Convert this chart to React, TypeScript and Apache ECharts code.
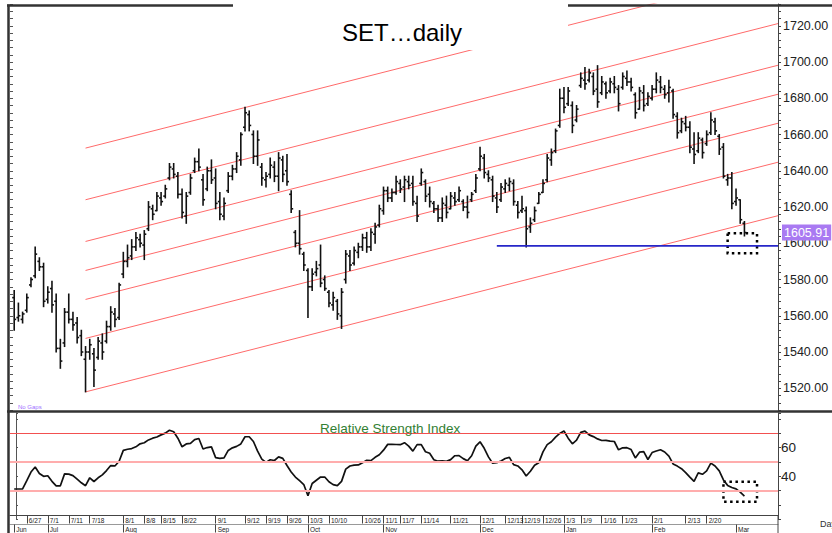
import React, { useEffect, useRef } from 'react';
import * as echarts from 'echarts';

// ---- OHLC bars (one per trading day) ----
const opens = [1570,1559,1558,1563,1577,1582,1590,1587,1569,1575,
 1568,1542,1545,1562,1558,1556,1549,1536,1540,1539,
 1537,1545,1546,1554,1561,1559,1583,1590,1593,1598,
 1602,1599,1608,1619,1618,1625,1626,1636,1641,1637,
 1627,1615,1628,1640,1645,1635,1630,1640,1636,1623,
 1615,1629,1637,1641,1646,1664,1671,1660,1648,1642,
 1635,1638,1642,1637,1646,1640,1627,1606,1600,1594,
 1585,1576,1584,1588,1580,1573,1566,1568,1560,1580,
 1593,1589,1595,1598,1603,1598,1605,1610,1618,1629,
 1625,1628,1633,1631,1634,1633,1622,1633,1634,1627,
 1622,1619,1614,1621,1619,1625,1624,1623,1620,1624,
 1629,1641,1647,1638,1635,1625,1624,1630,1632,1633,
 1621,1618,1618,1609,1613,1622,1628,1635,1646,1651,
 1665,1680,1677,1676,1668,1687,1690,1690,1692,1685,
 1683,1688,1684,1688,1685,1686,1691,1689,1682,1674,
 1683,1677,1680,1685,1689,1685,1683,1684,1670,1662,
 1666,1664,1652,1651,1657,1655,1661,1667,1659,1653,
 1635,1636,1623,1624,1611];
const closes = [1558,1560,1561,1570,1580,1594,1587,1568,1573,1566,
 1542,1535,1562,1558,1555,1548,1540,1540,1544,1530,
 1546,1540,1554,1562,1558,1577,1590,1592,1598,1603,
 1600,1605,1620,1616,1626,1623,1630,1642,1638,1627,
 1617,1626,1636,1645,1642,1624,1640,1635,1622,1616,
 1622,1637,1641,1648,1660,1672,1665,1648,1657,1636,
 1637,1643,1637,1647,1638,1634,1619,1600,1597,1588,
 1576,1583,1586,1578,1575,1567,1570,1561,1573,1594,
 1588,1596,1598,1603,1598,1606,1609,1619,1629,1625,
 1628,1634,1630,1635,1632,1623,1615,1639,1626,1623,
 1619,1614,1622,1617,1626,1623,1629,1620,1617,1627,
 1636,1648,1639,1636,1626,1620,1631,1633,1634,1623,
 1617,1619,1608,1611,1618,1627,1633,1647,1650,1662,
 1680,1675,1684,1665,1674,1691,1688,1694,1684,1678,
 1689,1683,1689,1686,1677,1692,1689,1686,1672,1684,
 1676,1681,1685,1690,1686,1682,1686,1671,1661,1667,
 1664,1653,1649,1658,1650,1660,1668,1662,1652,1637,
 1636,1622,1625,1613,1605.91];
const lows = [1552,1557,1556,1562,1576,1581,1585,1565,1567,1562,
 1540,1531,1543,1556,1552,1545,1538,1518,1536,1521,
 1536,1536,1545,1552,1554,1558,1581,1587,1591,1596,
 1598,1591,1607,1613,1618,1621,1625,1635,1636,1625,
 1614,1611,1627,1639,1640,1621,1629,1633,1619,1613,
 1613,1628,1635,1639,1643,1662,1662,1644,1643,1632,
 1631,1636,1634,1629,1634,1632,1617,1598,1594,1585,
 1559,1574,1582,1576,1574,1565,1563,1558,1553,1578,
 1585,1588,1592,1596,1595,1596,1600,1609,1616,1623,
 1623,1627,1628,1623,1630,1621,1612,1632,1623,1620,
 1617,1612,1612,1614,1619,1621,1623,1618,1614,1623,
 1628,1640,1636,1634,1623,1617,1623,1628,1629,1621,
 1614,1617,1598,1606,1612,1622,1628,1634,1643,1650,
 1664,1672,1676,1661,1667,1686,1685,1689,1682,1675,
 1682,1680,1683,1683,1673,1685,1687,1684,1669,1674,
 1673,1676,1679,1683,1683,1680,1678,1669,1658,1661,
 1662,1650,1644,1650,1647,1654,1660,1660,1649,1636,
 1632,1619,1621,1611,1604];
const highs = [1574,1567,1562,1572,1581,1598,1592,1589,1576,1579,
 1572,1547,1564,1572,1562,1559,1552,1543,1547,1542,
 1548,1550,1557,1565,1564,1578,1595,1599,1602,1606,
 1605,1607,1623,1621,1628,1628,1632,1644,1644,1639,
 1630,1628,1638,1647,1652,1638,1642,1646,1641,1628,
 1625,1639,1643,1650,1661,1675,1673,1662,1662,1644,
 1639,1647,1645,1650,1648,1649,1629,1607,1618,1595,
 1586,1586,1590,1599,1582,1574,1573,1569,1575,1596,
 1596,1598,1600,1605,1606,1608,1611,1621,1631,1631,
 1630,1637,1635,1637,1637,1637,1626,1641,1635,1631,
 1623,1621,1625,1626,1628,1628,1631,1624,1626,1628,
 1638,1653,1649,1640,1637,1628,1633,1635,1636,1635,
 1623,1626,1620,1614,1620,1628,1635,1649,1652,1663,
 1685,1686,1686,1678,1676,1694,1697,1696,1694,1698,
 1692,1689,1691,1692,1687,1694,1695,1691,1683,1686,
 1687,1683,1687,1694,1692,1687,1690,1685,1672,1669,
 1670,1667,1661,1661,1658,1662,1672,1669,1660,1655,
 1638,1639,1630,1624,1612];

// ---- RSI, one value per bar ----
const rsi = [31.2,31.2,31.2,37,43,46.5,42,40,40.4,36.5,
 33.4,33.4,41.7,41.5,40.5,38,35.5,33.5,39,36.4,
 39,41,44,47.5,47.2,50.5,58,58.8,59.3,60.5,
 62.6,63.3,65.3,66.5,67.3,68.8,70,72,71,66.5,
 60.5,62.5,62.9,65.5,66.3,59,60,60.5,53,52.5,
 52.8,58,59.8,60.8,62.5,67.5,67.5,64.2,57.5,52,
 49.7,51.5,51,53.5,52.5,47.5,43,39.5,37,34.3,
 26.5,35,37.3,39.5,39.5,36.2,34.2,33.5,36.5,45,
 47.2,47.8,47.9,49.5,51.1,50.9,53.2,55,58.2,62.2,
 62.2,62.1,62,63.4,61,57.5,62,62,57.1,56,
 51.5,50.5,50.8,50.4,51.6,54.3,54.4,52.3,50.8,54.3,
 61,64,59.5,53.5,49.1,49.5,50.6,52.4,53.2,48.1,
 47.2,44.5,40.2,43.5,47.7,49.5,57,62,64,67.2,
 69.8,71.5,66.5,62.6,65.1,70.5,71.4,68.8,67.6,66,
 64.9,65,64.5,64.2,58.4,59.8,59.9,58.6,52.8,56.8,
 57.1,51.7,56.5,57.6,58.5,56.9,54,48.6,47.1,45.3,
 42.6,39.5,36.5,42.4,41.4,43.8,49.2,47.2,43.8,37.5,
 33.7,32.2,31.3,29,26.3];

// ---- axis tick labels (slot index, label) ----
const dayTicks: [number, string][] = [
  [4, '6/27'], [9, '7/1'], [14, '7/11'], [19, '7/18'], [27, '8/1'], [32, '8/8'],
  [36, '8/15'], [41, '8/22'], [49, '9/1'], [56, '9/12'], [61, '9/19'], [66, '9/26'],
  [71, '10/3'], [76, '10/10'], [84, '10/26'], [89, '11/1'], [93, '11/7'], [98, '11/14'],
  [105, '11/21'], [112, '12/1'], [118, '12/13'], [122, '12/19'], [127, '12/26'],
  [132, '1/3'], [136, '1/9'], [141, '1/16'], [146, '1/23'], [153, '2/1'],
  [161, '2/13'], [166, '2/20'],
];
const monthTicks: [number, string][] = [
  [1, 'Jun'], [9, 'Jul'], [27, 'Aug'], [49, 'Sep'], [71, 'Oct'], [89, 'Nov'],
  [112, 'Dec'], [132, 'Jan'], [153, 'Feb'], [173, 'Mar'],
];

// ---- drawn channel lines / levels ----
const channelStart = [1652.5, 1624, 1601, 1585, 1569, 1547.5, 1518];
const channelEnd = [1749.7, 1721.2, 1698.2, 1682.2, 1666.2, 1644.7, 1615.2];
const channelFromSlot = 18;
const channelToSlot = 183;
const supportLevel = 1598.5;
const supportFromSlot = 116;
const lastPrice = 1605.91;
const rsiLevels = [70, 50, 30];

const SLOT_COUNT = 184; // slot 0 blank, bars in slots 1..175, blank tail
const FIRST_SLOT = 1;

const FONT = 'Liberation Sans, Arial, sans-serif';

function buildOption() {
  const cats = Array.from({ length: SLOT_COUNT }, (_, k) => String(k));
  const dayMap = new Map<number, string>(dayTicks);
  const monMap = new Map<number, string>(monthTicks);
  const bars = opens.map((o, i) => [i + FIRST_SLOT, o, closes[i], lows[i], highs[i]]);
  const rsiData = rsi.map((v, i) => [i + FIRST_SLOT, v]);

  const channelSeries = channelStart.map((s, j) => ({
    type: 'line',
    xAxisIndex: 0,
    yAxisIndex: 0,
    data: [[channelFromSlot, s], [channelToSlot, channelEnd[j]]],
    symbol: 'none',
    silent: true,
    lineStyle: { color: '#ff6a6a', width: 1 },
    z: 2,
  }));

  return {
    animation: false,
    backgroundColor: '#fff',
    textStyle: { fontFamily: FONT },
    grid: [
      { left: 10, right: 54, top: 4, height: 406 },
      { left: 10, right: 54, top: 413, height: 107 },
    ],
    xAxis: [
      {
        type: 'category', gridIndex: 0, data: cats, boundaryGap: false,
        axisLine: { show: false }, axisTick: { show: false }, axisLabel: { show: false },
      },
      {
        type: 'category', gridIndex: 1, data: cats, boundaryGap: false, position: 'bottom', offset: -4,
        axisLine: { show: true, lineStyle: { color: '#444', width: 1 } },
        axisTick: { show: true, length: 8, interval: (idx: number) => dayMap.has(idx), lineStyle: { color: '#444' } },
        axisLabel: {
          show: true, interval: (idx: number) => dayMap.has(idx),
          formatter: (_v: string, idx: number) => dayMap.get(idx) ?? '',
          align: 'left', fontSize: 6.5, margin: 1.5, color: '#222', padding: [0, 0, 0, 2],
        },
      },
      {
        type: 'category', gridIndex: 1, data: cats, boundaryGap: false, position: 'bottom', offset: 5,
        axisLine: { show: true, lineStyle: { color: '#999', width: 1 } },
        axisTick: { show: true, length: 8, interval: (idx: number) => monMap.has(idx), lineStyle: { color: '#444' } },
        axisLabel: {
          show: true, interval: (idx: number) => monMap.has(idx),
          formatter: (_v: string, idx: number) => monMap.get(idx) ?? '',
          align: 'left', fontSize: 6.5, margin: 1.5, color: '#222', padding: [0, 0, 0, 2],
        },
      },
    ],
    yAxis: [
      {
        type: 'value', gridIndex: 0, position: 'right', min: 1508, max: 1732, interval: 4,
        axisLine: { show: true, lineStyle: { color: '#444', width: 1 } },
        axisTick: { show: true, length: 3, lineStyle: { color: '#444' } },
        axisLabel: {
          show: true, margin: 5, fontSize: 12.5, color: '#222', fontFamily: FONT,
          formatter: (v: number) => (Math.abs(v % 20) < 1e-6 ? v.toFixed(2) : ''),
        },
        splitLine: { show: false },
      },
      {
        type: 'value', gridIndex: 0, position: 'left', min: 1508, max: 1732, interval: 4,
        axisLine: { show: false },
        axisTick: { show: true, inside: true, length: 3, lineStyle: { color: '#555' } },
        axisLabel: { show: false }, splitLine: { show: false },
      },
      {
        type: 'value', gridIndex: 1, position: 'right', min: 10, max: 84, interval: 10,
        axisLine: { show: true, lineStyle: { color: '#444', width: 1 } },
        axisTick: { show: true, length: 3, lineStyle: { color: '#444' } },
        axisLabel: {
          show: true, margin: 3, fontSize: 13.5, color: '#222', fontFamily: FONT,
          formatter: (v: number) => (v === 40 || v === 60 ? String(v) : ''),
        },
        splitLine: { show: false },
      },
      {
        type: 'value', gridIndex: 1, position: 'left', offset: -6, min: 10, max: 84, interval: 10,
        axisLine: { show: true, lineStyle: { color: '#555', width: 1 } },
        axisTick: { show: true, inside: true, length: 2, lineStyle: { color: '#555' } },
        axisLabel: { show: false }, splitLine: { show: false },
      },
    ],
    series: [
      ...channelSeries,
      {
        type: 'custom',
        xAxisIndex: 0,
        yAxisIndex: 0,
        data: bars,
        encode: { x: 0, y: [1, 2, 3, 4] },
        z: 3,
        silent: true,
        renderItem: (_p: any, api: any) => {
          const x = api.value(0);
          const pO = api.coord([x, api.value(1)]);
          const pC = api.coord([x, api.value(2)]);
          const pL = api.coord([x, api.value(3)]);
          const pH = api.coord([x, api.value(4)]);
          const st = { stroke: '#111', lineWidth: 1.6 };
          return {
            type: 'group',
            children: [
              { type: 'line', shape: { x1: pL[0], y1: pL[1] + 0.5, x2: pH[0], y2: pH[1] - 0.5 }, style: st },
              { type: 'line', shape: { x1: pO[0] - 2, y1: pO[1], x2: pO[0], y2: pO[1] }, style: st },
              { type: 'line', shape: { x1: pC[0], y1: pC[1], x2: pC[0] + 2, y2: pC[1] }, style: st },
            ],
          };
        },
      },
      {
        type: 'line',
        xAxisIndex: 0,
        yAxisIndex: 0,
        data: [[supportFromSlot, supportLevel], [channelToSlot, supportLevel]],
        symbol: 'none',
        silent: true,
        lineStyle: { color: '#2626c8', width: 1.8 },
        z: 4,
        markArea: {
          silent: true,
          itemStyle: { color: 'rgba(0,0,0,0)', borderColor: '#000', borderWidth: 2.5, borderType: [2.5, 3.5] },
          data: [[{ coord: [171, 1605.5] }, { coord: [178, 1594.5] }]],
        },
      },
      {
        type: 'line',
        xAxisIndex: 0,
        yAxisIndex: 0,
        data: [],
        symbol: 'none',
        silent: true,
        z: 10,
        markLine: {
          silent: true,
          symbol: 'none',
          lineStyle: { color: 'rgba(0,0,0,0)', width: 1 },
          data: [{ yAxis: lastPrice }],
          label: {
            show: true, position: 'end', distance: 4,
            formatter: lastPrice.toFixed(2),
            backgroundColor: '#a97af2', color: '#fff', fontSize: 12.5, fontFamily: FONT,
            padding: [2, 2, 1, 2],
          },
        },
      },
      {
        type: 'line',
        xAxisIndex: 1,
        yAxisIndex: 2,
        data: rsiData,
        symbol: 'none',
        silent: true,
        lineStyle: { color: '#111', width: 1.7 },
        z: 4,
        markLine: {
          silent: true,
          symbol: 'none',
          label: { show: false },
          lineStyle: { color: '#ffadad', width: 2, type: 'solid' },
          data: rsiLevels.map((lv) => ({
            yAxis: lv,
            lineStyle: lv === 70
              ? { color: '#f25050', width: 1.2, type: 'solid', opacity: 1 }
              : { color: '#ffadad', width: 2, type: 'solid', opacity: 1 },
          })),
        },
        markArea: {
          silent: true,
          itemStyle: { color: 'rgba(0,0,0,0)', borderColor: '#000', borderWidth: 2.5, borderType: [2.5, 3.5] },
          data: [[{ coord: [170, 36.3] }, { coord: [178, 22.4] }]],
        },
      },
    ],
    graphic: [
      { type: 'rect', shape: { x: 233, y: 0, width: 335, height: 50 }, style: { fill: '#fff' }, z: 100 },
      {
        type: 'text', x: 402, y: 32, z: 101,
        style: {
          text: 'SET…daily', fontSize: 24, fontFamily: FONT, fill: '#000',
          textAlign: 'center', textVerticalAlign: 'middle', align: 'center', verticalAlign: 'middle',
        },
      },
      { type: 'line', shape: { x1: 7, y1: 5.5, x2: 233, y2: 5.5 }, style: { stroke: '#333', lineWidth: 2.5 }, z: 102 },
      { type: 'line', shape: { x1: 568, y1: 5.5, x2: 832, y2: 5.5 }, style: { stroke: '#333', lineWidth: 2.5 }, z: 102 },
      { type: 'line', shape: { x1: 8.5, y1: 4.5, x2: 8.5, y2: 533 }, style: { stroke: '#333', lineWidth: 2.5 }, z: 102 },
      { type: 'line', shape: { x1: 7, y1: 411.5, x2: 832, y2: 411.5 }, style: { stroke: '#333', lineWidth: 2.5 }, z: 102 },
      { type: 'line', shape: { x1: 778, y1: 516, x2: 778, y2: 533 }, style: { stroke: '#444', lineWidth: 1 }, z: 102 },
      {
        type: 'text', x: 18, y: 407, z: 101,
        style: { text: 'No Gaps', fontSize: 6, fontFamily: FONT, fill: '#a070ff', textVerticalAlign: 'middle', verticalAlign: 'middle' },
      },
      {
        type: 'text', x: 320, y: 428.5, z: 101,
        style: { text: 'Relative Strength Index', fontSize: 13.5, fontFamily: FONT, fill: '#338033', textVerticalAlign: 'middle', verticalAlign: 'middle' },
      },
      {
        type: 'text', x: 820, y: 524, z: 101,
        style: { text: 'Day', fontSize: 9, fontFamily: FONT, fill: '#333', textVerticalAlign: 'middle', verticalAlign: 'middle' },
      },
    ],
  };
}

export default function App() {
  const ref = useRef<HTMLDivElement>(null);
  useEffect(() => {
    if (!ref.current) return;
    const chart = echarts.init(ref.current, undefined, { renderer: 'svg' });
    chart.setOption(buildOption() as any);
    return () => chart.dispose();
  }, []);
  return (
    <div
      ref={ref}
      style={{ position: 'fixed', left: 0, top: 0, width: 832, height: 533, background: '#fff' }}
    />
  );
}
